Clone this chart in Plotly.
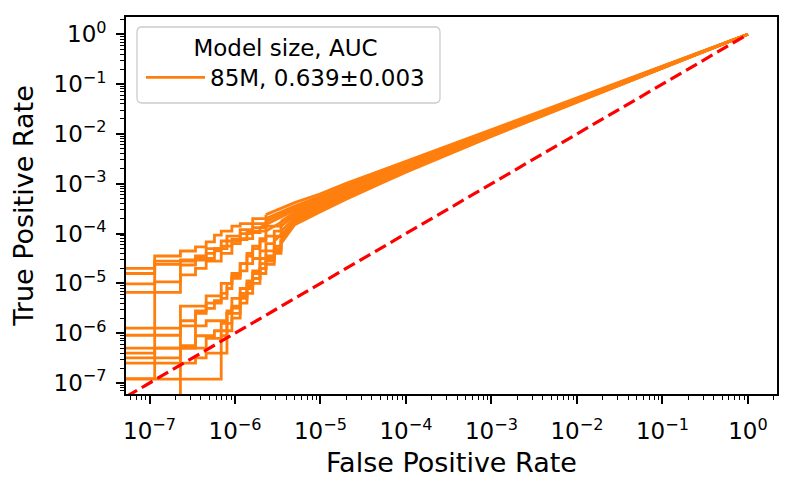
import plotly.graph_objects as go

# ---------------- data ----------------
F1, F2, F3, F4, F5, F6, F7, F8 = 1.15e-7, 2.3e-7, 3.45e-7, 4.6e-7, 5.75e-7, 6.9e-7, 8.05e-7, 9.2e-7
F10, F12, F14, F17, F20, F25, F30 = 1.15e-6, 1.38e-6, 1.61e-6, 1.96e-6, 2.3e-6, 2.88e-6, 3.45e-6
LEFT = 1e-8  # FPR = 0 (clipped at the left edge on the log axis)

# low-FPR staircase part of each ROC curve (one list pair per curve)
a_fpr = [LEFT, F1, F2, F3, F4, F5, F6, F8, F10, F14, F20]
a_tpr = [2.0e-5, 3.55e-5, 4.47e-5, 5.4e-5, 6.8e-5, 9.3e-5, 1.12e-4, 1.41e-4, 1.58e-4, 2.0e-4, 2.4e-4]
b_fpr = [LEFT, F1, F3, F4, F6, F7, F10, F14, F20]
b_tpr = [1.58e-5, 2.8e-5, 3.55e-5, 5.0e-5, 7.1e-5, 8.9e-5, 1.2e-4, 1.58e-4, 2.0e-4]
c_fpr = [LEFT, F1, F2, F4, F5, F7, F10, F14, F20]
c_tpr = [9.8e-6, 2.4e-5, 2.95e-5, 4.0e-5, 5.0e-5, 7.1e-5, 1.0e-4, 1.32e-4, 1.74e-4]
d_fpr = [LEFT, F2, F3, F4, F6, F8, F10, F14, F20, F30]
d_tpr = [6.6e-6, 1.48e-5, 2.0e-5, 2.8e-5, 4.0e-5, 6.3e-5, 7.9e-5, 1.12e-4, 1.41e-4, 1.78e-4]
e_fpr = [LEFT, F1, F2, F3, F5, F6, F8, F12, F17]
e_tpr = [1.26e-6, 1.07e-5, 2.34e-5, 3.16e-5, 4.5e-5, 5.6e-5, 7.6e-5, 1.05e-4, 1.32e-4]
f_fpr = [LEFT, F2, F4, F6, F8, F10, F12, F14, F17, F20, F25, F30]
f_tpr = [9.1e-7, 3.5e-6, 5.6e-6, 1.0e-5, 1.41e-5, 2.5e-5, 3.55e-5, 5.0e-5, 7.1e-5, 8.9e-5, 1.12e-4, 1.41e-4]
g_fpr = [LEFT, F3, F4, F6, F7, F8, F10, F12, F14, F17, F20, F25, F30]
g_tpr = [5.0e-7, 2.8e-6, 4.0e-6, 5.0e-6, 7.9e-6, 1.26e-5, 1.78e-5, 2.5e-5, 3.16e-5, 4.5e-5, 6.3e-5, 8.9e-5, 1.12e-4]
h_fpr = [LEFT, F1, F2, F4, F7, F8, F10, F12, F14, F17, F20, F25, F30]
h_tpr = [4.0e-7, 1.26e-6, 1.41e-6, 1.78e-6, 2.8e-6, 5.0e-6, 7.9e-6, 1.12e-5, 1.58e-5, 2.5e-5, 3.55e-5, 5.6e-5, 7.9e-5]
i_fpr = [LEFT, F1, F4, F6, F7, F10, F12, F14, F17, F20, F25, F30]
i_tpr = [1.23e-7, 5.0e-7, 7.9e-7, 1.58e-6, 2.5e-6, 5.6e-6, 8.9e-6, 1.26e-5, 2.0e-5, 2.8e-5, 4.5e-5, 7.1e-5]
j_fpr = [LEFT, F3, F4, F7, F8, F10, F12, F14, F17, F20, F25, F30]
j_tpr = [2.5e-7, 3.2e-7, 4.0e-7, 1.12e-6, 2.0e-6, 4.0e-6, 6.3e-6, 1.0e-5, 1.58e-5, 2.4e-5, 4.0e-5, 6.3e-5]
k_fpr = [LEFT, F6, F7, F8, F10, F12, F14, F17, F20, F25, F30]
k_tpr = [1.2e-7, 8.9e-7, 2.5e-6, 3.5e-6, 5.0e-6, 7.9e-6, 1.26e-5, 2.0e-5, 3.16e-5, 5.0e-5, 7.9e-5]
l_fpr = [LEFT, F2, F3, F4, F5, F6, F7, F8, F10, F12, F14, F17, F20]
l_tpr = [1e-9, 1.78e-6, 2.5e-6, 3.16e-6, 4.5e-6, 6.3e-6, 1.0e-5, 1.58e-5, 2.5e-5, 4.0e-5, 5.6e-5, 7.9e-5, 1.12e-4]
m_fpr = [LEFT, F2, F3, F5, F7, F8, F10, F12, F14, F17, F20, F25]
m_tpr = [3.2e-7, 5.6e-7, 8.9e-7, 1.12e-6, 1.58e-6, 3.2e-6, 6.3e-6, 1.0e-5, 1.78e-5, 3.16e-5, 4.5e-5, 7.1e-5]

# higher-FPR part, shared FPR grid
band_fpr = [5e-6, 1e-5, 2e-5, 5e-5, 1e-4, 1e-3, 1e-2, 1e-1, 1.0]
a_band = [4.17e-4, 6.31e-4, 1.02e-3, 1.82e-3, 2.82e-3, 1.23e-2, 5.31e-2, 0.229, 1.0]
b_band = [3.55e-4, 5.62e-4, 9.12e-4, 1.66e-3, 2.63e-3, 1.17e-2, 5.13e-2, 0.226, 1.0]
c_band = [3.24e-4, 5.13e-4, 8.51e-4, 1.55e-3, 2.48e-3, 1.135e-2, 5.01e-2, 0.224, 1.0]
d_band = [2.63e-4, 4.37e-4, 7.41e-4, 1.38e-3, 2.24e-3, 1.06e-2, 4.84e-2, 0.220, 1.0]
e_band = [2.95e-4, 4.68e-4, 7.94e-4, 1.48e-3, 2.36e-3, 1.10e-2, 4.94e-2, 0.222, 1.0]
f_band = [2.29e-4, 3.80e-4, 6.61e-4, 1.26e-3, 2.09e-3, 1.02e-2, 4.68e-2, 0.217, 1.0]
g_band = [2.04e-4, 3.55e-4, 6.17e-4, 1.20e-3, 2.00e-3, 9.77e-3, 4.57e-2, 0.215, 1.0]
h_band = [1.78e-4, 3.09e-4, 5.50e-4, 1.10e-3, 1.84e-3, 9.33e-3, 4.47e-2, 0.212, 1.0]
i_band = [1.62e-4, 2.95e-4, 5.13e-4, 1.05e-3, 1.78e-3, 9.12e-3, 4.39e-2, 0.210, 1.0]
j_band = [1.51e-4, 2.75e-4, 4.90e-4, 1.00e-3, 1.70e-3, 8.91e-3, 4.32e-2, 0.209, 1.0]
k_band = [1.86e-4, 3.24e-4, 5.62e-4, 1.12e-3, 1.88e-3, 9.55e-3, 4.50e-2, 0.213, 1.0]
l_band = [2.40e-4, 3.98e-4, 6.76e-4, 1.32e-3, 2.14e-3, 1.035e-2, 4.73e-2, 0.218, 1.0]
m_band = [1.70e-4, 3.16e-4, 5.75e-4, 1.15e-3, 1.95e-3, 9.66e-3, 4.55e-2, 0.214, 1.0]

chance_fpr = [1e-8, 1.0]
chance_tpr = [1e-8, 1.0]

legend_title = "Model size, AUC"
series_name = "85M, 0.639\u00b10.003"
tick_vals = [1e-7, 1e-6, 1e-5, 1e-4, 1e-3, 1e-2, 1e-1, 1.0]
tick_text = ["10<sup>\u22127</sup>", "10<sup>\u22126</sup>", "10<sup>\u22125</sup>", "10<sup>\u22124</sup>",
             "10<sup>\u22123</sup>", "10<sup>\u22122</sup>", "10<sup>\u22121</sup>", "10<sup>0</sup>"]

curves = [
    (a_fpr, a_tpr, a_band), (b_fpr, b_tpr, b_band), (c_fpr, c_tpr, c_band),
    (d_fpr, d_tpr, d_band), (e_fpr, e_tpr, e_band), (f_fpr, f_tpr, f_band),
    (g_fpr, g_tpr, g_band), (h_fpr, h_tpr, h_band), (i_fpr, i_tpr, i_band),
    (j_fpr, j_tpr, j_band), (k_fpr, k_tpr, k_band), (l_fpr, l_tpr, l_band),
    (m_fpr, m_tpr, m_band),
]

ORANGE = "#ff7f0e"
FONT = "DejaVu Sans"

fig = go.Figure()
for n, (sf, st, bt) in enumerate(curves):
    fig.add_trace(go.Scatter(x=sf, y=st, mode="lines", line=dict(color=ORANGE, width=2.8, shape="hv"),
                             name=series_name, legendgroup="m", showlegend=(n == 0), hoverinfo="skip"))
    fig.add_trace(go.Scatter(x=[sf[-1]] + band_fpr, y=[st[-1]] + bt, mode="lines",
                             line=dict(color=ORANGE, width=2.8), name=series_name, legendgroup="m",
                             showlegend=False, hoverinfo="skip"))

fig.add_trace(go.Scatter(x=chance_fpr, y=chance_tpr, mode="lines",
                         line=dict(color="#ff0000", width=3.2, dash="12.5px,5.5px"),
                         showlegend=False, hoverinfo="skip"))

# plot area in pixels: x 126..777, y 17..394
L, R, T, B = 126, 777, 17, 394
W, H = 793, 492

def px(xp):
    return (xp - L) / (R - L)

def py(yp):
    return (B - yp) / (B - T)

# rounded legend frame
x0, x1, y0, y1, r = 137, 440, 27, 103, 5
path = (f"M {px(x0 + r)},{py(y0)} L {px(x1 - r)},{py(y0)} Q {px(x1)},{py(y0)} {px(x1)},{py(y0 + r)} "
        f"L {px(x1)},{py(y1 - r)} Q {px(x1)},{py(y1)} {px(x1 - r)},{py(y1)} "
        f"L {px(x0 + r)},{py(y1)} Q {px(x0)},{py(y1)} {px(x0)},{py(y1 - r)} "
        f"L {px(x0)},{py(y0 + r)} Q {px(x0)},{py(y0)} {px(x0 + r)},{py(y0)} Z")
fig.add_shape(type="path", path=path, xref="paper", yref="paper", layer="above",
              fillcolor="rgba(255,255,255,0.8)", line=dict(color="#cccccc", width=1.3))

minor_vals = [m * 10.0 ** e for e in range(-8, 1) for m in range(2, 10)]

axis_common = dict(
    type="log", showgrid=False, zeroline=False, showline=True, linecolor="black", linewidth=1.6,
    mirror=True, ticks="outside", ticklen=8, tickwidth=1.6, tickcolor="black", automargin=False,
    tickmode="array", tickvals=tick_vals, ticktext=tick_text,
    tickfont=dict(family=FONT, size=23, color="black"),
    minor=dict(tickvals=minor_vals, ticks="outside", ticklen=4.5, tickwidth=1.2, tickcolor="black", showgrid=False),
)

fig.update_layout(
    width=W, height=H,
    margin=dict(l=L, r=W - R, t=T, b=H - B, pad=0, autoexpand=False),
    paper_bgcolor="white", plot_bgcolor="white",
    font=dict(family=FONT, color="black"),
    xaxis=dict(axis_common, range=[-7.275, 0.34], ticklabelstandoff=8,
               title=dict(text="False Positive Rate", font=dict(family=FONT, size=27, color="black"), standoff=10)),
    yaxis=dict(axis_common, range=[-7.22, 0.347], ticklabelstandoff=5,
               title=dict(text="True Positive Rate", font=dict(family=FONT, size=27, color="black"), standoff=12)),
    legend=dict(x=px(141), y=py(26), xanchor="left", yanchor="top", bgcolor="rgba(0,0,0,0)", borderwidth=0,
                itemwidth=59,
                font=dict(family=FONT, size=23, color="black"),
                title=dict(text=legend_title, side="top center", font=dict(family=FONT, size=23, color="black"))),
    showlegend=True,
)

fig.write_html("out.html", config={"displayModeBar": False},
               post_script="document.body.style.margin='0px';document.body.style.overflow='hidden';")
